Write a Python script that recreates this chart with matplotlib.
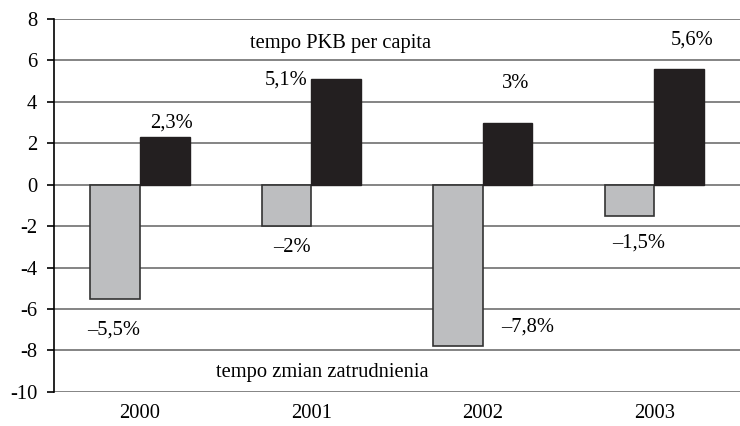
import numpy as np
import matplotlib
matplotlib.use("Agg")
import matplotlib.pyplot as plt

plt.rcParams['font.family'] = ['Liberation Serif', 'DejaVu Serif']
plt.rcParams['axes.unicode_minus'] = False

lata = ['2000', '2001', '2002', '2003']
zatrudnienie = [-5.5, -2.0, -7.8, -1.5]
pkb = [2.3, 5.1, 3.0, 5.6]
etykiety_zatr = ['\u20135,5%', '\u20132%', '\u20137,8%', '\u20131,5%']
etykiety_pkb = ['2,3%', '5,1%', '3%', '5,6%']

# polozenie etykiet (w jednostkach danych)
poz_zatr = [(-0.15, -7.0), (0.89, -3.05), (2.26, -6.86), (2.91, -2.81)]
poz_pkb = [(0.187, 2.98), (0.854, 5.06), (2.19, 4.91), (3.22, 6.99)]

fig = plt.figure(figsize=(7.4, 4.26), dpi=100)
ax = fig.add_axes([0.073, 0.08, 0.927, 0.8754])

x = np.arange(len(lata))
szer = 0.29

for y in range(-10, 9, 2):
    ax.axhline(y, color='#707070', linewidth=1.2, zorder=0)

ax.bar(x - szer / 2, zatrudnienie, szer, color='#bdbec0', edgecolor='#333333',
       linewidth=1.2, zorder=2)
ax.bar(x + szer / 2, pkb, szer, color='#231f20', edgecolor='#231f20',
       linewidth=1.0, zorder=2)

rozmiar = 14.8
for (px, py), t in zip(poz_zatr, etykiety_zatr):
    ax.text(px, py, t, ha='center', va='center', fontsize=rozmiar)
for (px, py), t in zip(poz_pkb, etykiety_pkb):
    ax.text(px, py, t, ha='center', va='center', fontsize=rozmiar)

ax.text(1.17, 6.84, 'tempo PKB per capita', ha='center', va='center', fontsize=rozmiar)
ax.text(1.066, -9.04, 'tempo zmian zatrudnienia', ha='center', va='center', fontsize=rozmiar)

ax.set_xlim(-0.5, 3.5)
ax.set_ylim(-10, 8)
ax.set_yticks(range(-10, 9, 2))
ax.set_xticks(x)
ax.set_xticklabels(lata)
ax.tick_params(axis='x', length=0, pad=9, labelsize=rozmiar)
ax.tick_params(axis='y', length=5, width=1.2, direction='out', pad=7, labelsize=rozmiar)

for s in ['top', 'right', 'bottom']:
    ax.spines[s].set_visible(False)
ax.spines['left'].set_color('black')
ax.spines['left'].set_linewidth(1.2)

fig.savefig('out.png', dpi=100)
